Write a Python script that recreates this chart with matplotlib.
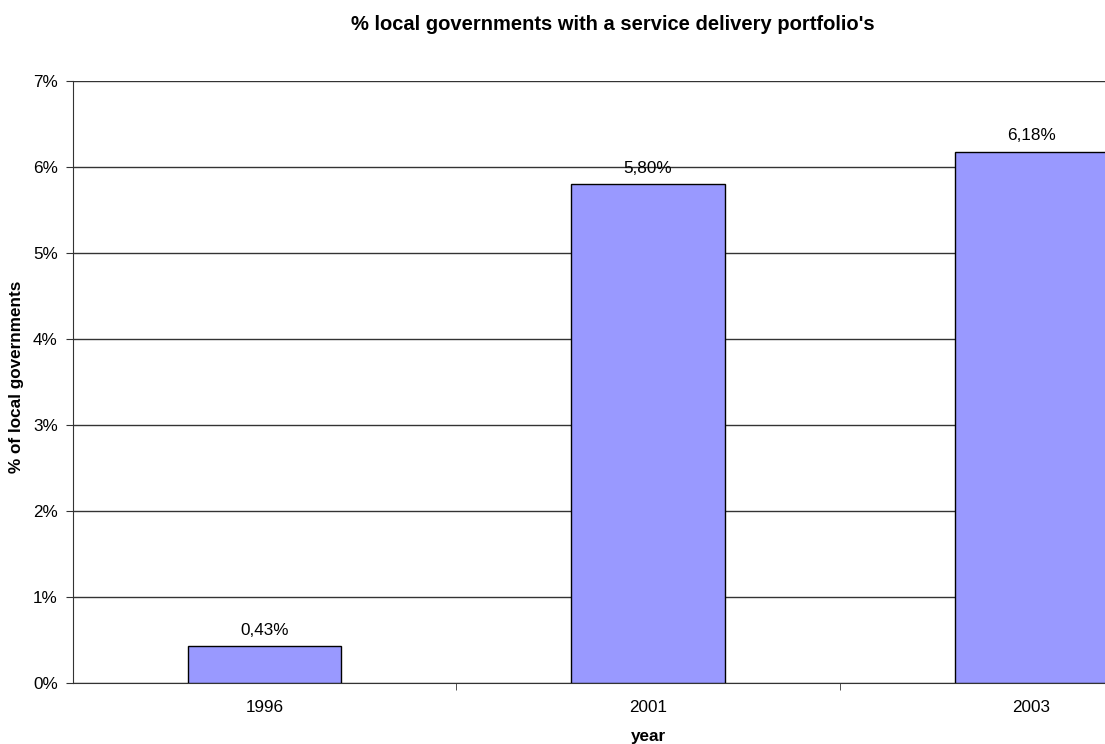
import numpy as np
import matplotlib.pyplot as plt

years = ["1996", "2001", "2003"]
shares = [0.43, 5.80, 6.18]
bar_labels = ["0,43%", "5,80%", "6,18%"]
y_ticks = [0, 1, 2, 3, 4, 5, 6, 7]

plt.rcParams['font.family'] = ['Liberation Sans', 'DejaVu Sans']

W, H = 1105, 744
fig = plt.figure(figsize=(W / 100, H / 100), dpi=100)
# plot area runs past the right edge of the picture, as in the original
ax = fig.add_axes([73 / W, 1 - 683 / H, 1150 / W, 602 / H])

x = np.arange(len(years))
ax.bar(x, shares, width=0.40, color="#9999FF", edgecolor="black", linewidth=1, zorder=3)

for xi, v, lab in zip(x, shares, bar_labels):
    ax.annotate(lab, (xi, v), xytext=(0, 6), textcoords="offset points",
                ha="center", va="bottom", fontsize=12.3)

ax.set_xlim(-0.5, 2.5)
ax.set_ylim(0, 7)
ax.set_yticks(y_ticks)
ax.set_yticklabels([f"{t}%" for t in y_ticks], fontsize=12.3)
ax.yaxis.grid(True, color="#333333", linewidth=1, zorder=0)

# category labels centered, tick marks between categories
ax.set_xticks(x)
ax.set_xticklabels(years, fontsize=12.3)
ax.tick_params(axis="x", length=0, pad=12)
ax.set_xticks([0.5, 1.5], minor=True)
ax.tick_params(axis="x", which="minor", length=5, color="#333333")
ax.tick_params(axis="y", length=5, color="#333333", pad=6)

for s in ["top", "right"]:
    ax.spines[s].set_visible(False)
ax.spines["left"].set_color("#333333")
ax.spines["bottom"].set_color("#333333")

fig.text(648 / W, 1 - 737 / H, "year", ha="center", va="center",
         fontsize=12.3, fontweight="bold")
fig.text(17 / W, 1 - 377 / H, "% of local governments", ha="center", va="center",
         rotation=90, fontsize=12.3, fontweight="bold")
fig.text(613 / W, 1 - 25 / H, "% local governments with a service delivery portfolio's",
         ha="center", va="center", fontsize=14.5, fontweight="bold")

fig.savefig("out.png", dpi=100)
